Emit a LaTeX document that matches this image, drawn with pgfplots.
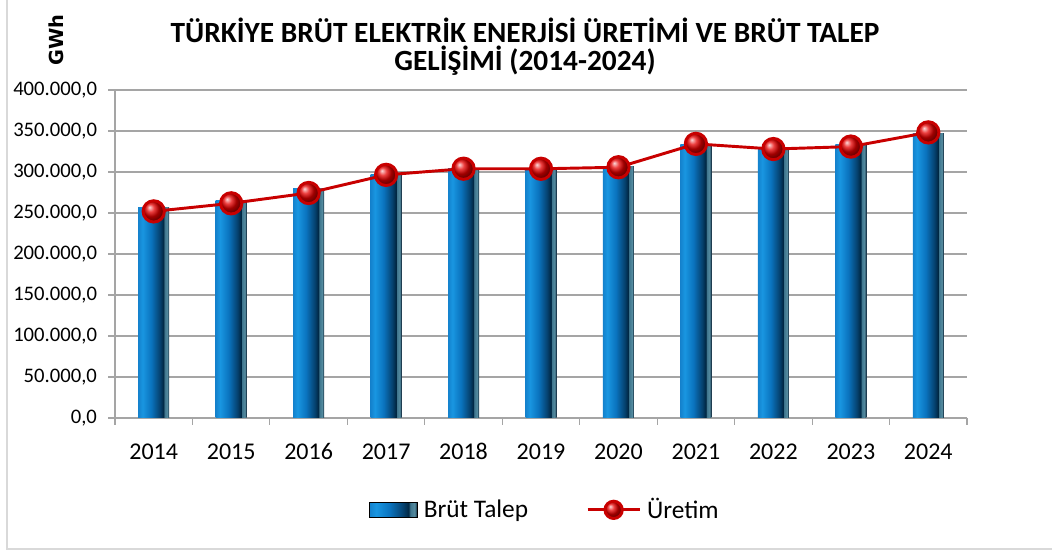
\documentclass[border=0pt]{standalone}
\usepackage{pgfplots}
\pgfplotsset{compat=1.18}
\usepackage{fontspec}
\setmainfont{Carlito}
\newfontfamily\dejavu{DejaVu Sans}

\definecolor{gridgray}{RGB}{165,165,165}
\definecolor{framegray}{RGB}{217,217,217}
\definecolor{linered}{RGB}{200,0,0}
\definecolor{ca}{RGB}{20,130,205}
\definecolor{cb}{RGB}{25,150,225}
\definecolor{cc}{RGB}{10,115,190}
\definecolor{cd}{RGB}{5,65,110}
\definecolor{ce}{RGB}{0,38,65}
\definecolor{cf}{RGB}{60,115,140}
\definecolor{cg}{RGB}{85,140,160}
\definecolor{ch}{RGB}{30,60,80}
\pgfdeclarehorizontalshading{barshade}{100bp}{color(0bp)=(ca); color(25bp)=(ca); color(32bp)=(cb); color(46bp)=(cc); color(60bp)=(cd); color(66bp)=(ce); color(67bp)=(cf); color(72bp)=(cg); color(74bp)=(ch); color(100bp)=(ch)}

\pgfplotstableread{
x demand prod
0 257220 251963
1 265724 261783
2 279286 274408
3 296702 296500
4 304167 304000
5 303320 303898
6 306130 305800
7 333000 334300
8 327000 328000
9 333500 331000
10 347300 348300
}\datatable

\begin{document}
\begin{tikzpicture}
\useasboundingbox (0pt,0pt) rectangle (789pt,414pt);
\draw[framegray, line width=0.8pt] (5.25pt,420pt) -- (5.25pt,2.25pt) -- (795pt,2.25pt);
\node[font=\bfseries\fontsize{22}{21}\selectfont, align=center] at (393.75pt,379pt)
  {TÜRKİYE BRÜT ELEKTRİK ENERJİSİ ÜRETİMİ VE BRÜT TALEP\\GELİŞİMİ (2014-2024)};
\node[font=\dejavu\bfseries\fontsize{14.5}{14}\selectfont, rotate=90] at (42pt,384pt) {GWh};
\begin{axis}[
  at={(86.25pt,100.5pt)}, anchor=south west,
  scale only axis, width=639pt, height=246pt,
  xmin=-0.5, xmax=10.5, ymin=0, ymax=400000,
  xtick={0,...,10},
  xticklabels={2014,2015,2016,2017,2018,2019,2020,2021,2022,2023,2024},
  minor xtick={-0.5,0.5,...,10.5},
  ytick={0,50000,...,400000},
  scaled y ticks=false,
  axis x line*=bottom, axis y line*=left,
  axis line style={gridgray, line width=0.8pt},
  tick align=outside,
  major tick length=5pt, minor tick length=5pt,
  x tick style={draw=none}, minor x tick style={draw=gridgray, line width=0.8pt},
  y tick style={gridgray, line width=0.8pt},
  ymajorgrids, grid style={gridgray, line width=0.8pt},
  tick label style={font=\fontsize{15.5}{16}\selectfont},
  xticklabel style={font=\fontsize{18}{20}\selectfont, text height=12.5pt, text depth=0pt, anchor=north, yshift=-10pt},
  yticklabel style={xshift=-5pt, /pgf/number format/.cd, fixed, fixed zerofill, precision=1, use comma, 1000 sep={.}, assume math mode=true},
  legend style={draw=none, at={(0.507,-0.28)}, anchor=center, font=\fontsize{19}{20}\selectfont, legend columns=2, /tikz/every even column/.append style={column sep=39pt}, nodes={inner xsep=4.5pt}},
  legend cell align=left,
  clip=false,
]
\addlegendimage{legend image code/.code={\fill[shading=barshade] (0pt,-5.5pt) rectangle (36pt,5.5pt);}}
\addlegendentry{Brüt Talep}
\pgfplotsinvokeforeach{0,...,10}{
  \addplot[ybar, bar width=23.25pt, draw=none, shade, shading=barshade, forget plot,
    restrict x to domain=#1:#1]
    table[x=x, y=demand] {\datatable};
}
\addplot[linered, line width=2.2pt, mark=ball, mark size=8pt, mark options={ball color=red!90!black},
  legend image code/.code={\draw[linered, line width=2.2pt] (0pt,0pt) -- (39pt,0pt); \shade[ball color=red!90!black] (19.5pt,0pt) circle (6.5pt);}]
  table[x=x, y=prod] {\datatable};
\addlegendentry{Üretim}
\end{axis}
\end{tikzpicture}
\end{document}
